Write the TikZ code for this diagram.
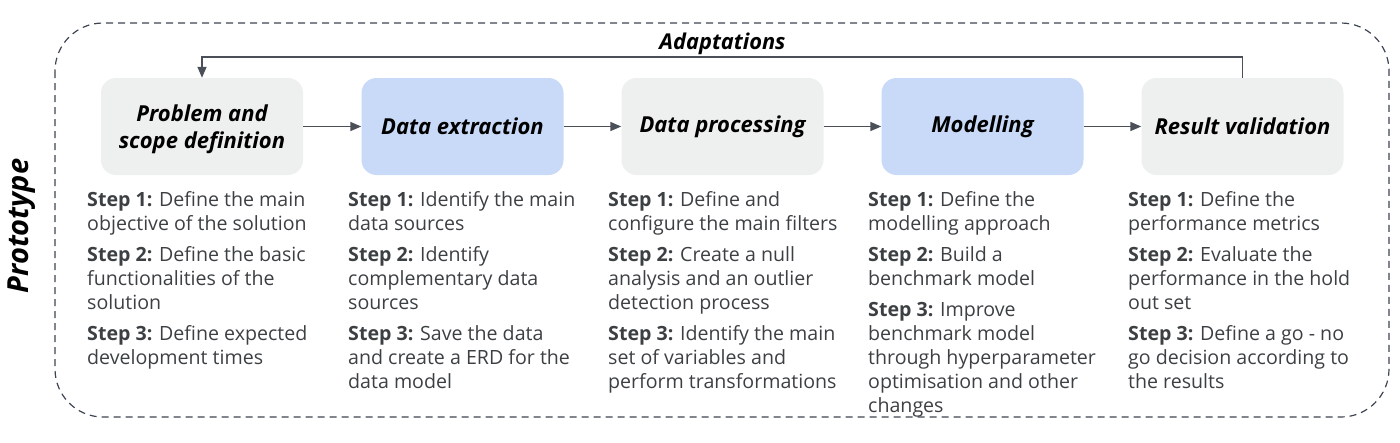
\documentclass[tikz,border=0pt]{standalone}
\usepackage{fontspec}
\setmainfont{Open Sans}
\usetikzlibrary{arrows.meta}
\definecolor{boxgrey}{HTML}{EEEFEF}
\definecolor{boxblue}{HTML}{C9DAF8}
\definecolor{linec}{HTML}{4A4F58}
\definecolor{txtc}{HTML}{3C4043}
\definecolor{dashc}{HTML}{3D4451}
\tikzset{
  stagebox/.style={rounded corners=15pt, minimum width=202pt, minimum height=97pt, align=center,
    font=\fontsize{22}{27}\selectfont\bfseries\itshape, text=black, inner sep=0pt},
  steptext/.style={anchor=north west, align=left, inner sep=0pt, text=txtc,
    font=\fontsize{19.6}{24}\selectfont},
  arr/.style={draw=linec, line width=1.4pt, -{Triangle[length=11pt,width=9pt]}},
}
\newcommand{\stp}[1]{\textbf{Step #1:}}
\begin{document}
\begin{tikzpicture}[x=1pt,y=-1pt]
\useasboundingbox (0,0) rectangle (1400,442);
\draw[dashc, line width=1.2pt, dash pattern=on 7pt off 5pt, rounded corners=48pt] (55,23) rectangle (1389,417);
\node[rotate=90, font=\fontsize{29}{32}\selectfont\bfseries\itshape] (proto) at (22,226) {Prototype};

\node[stagebox, fill=boxgrey] (b1) at (202,126.5) {\rule{0pt}{23pt}Problem and\\scope definition};
\node[stagebox, fill=boxblue] (b2) at (462.5,126.5) {Data extraction};
\node[stagebox, fill=boxgrey] (b3) at (722.5,126.5) {Data processing};
\node[stagebox, fill=boxblue] (b4) at (982.5,126.5) {Modelling};
\node[stagebox, fill=boxgrey] (b5) at (1242.5,126.5) {Result validation};

\draw[arr] (b1) -- (b2);
\draw[arr] (b2) -- (b3);
\draw[arr] (b3) -- (b4);
\draw[arr] (b4) -- (b5);
\coordinate (fb) at (0,57);
\draw[arr] (b5.north) -- (b5.north |- fb) -| (b1.north);
\node[font=\fontsize{21.8}{24}\selectfont\bfseries\itshape] (adapt) at (722.5,43.5) {Adaptations};

\node[steptext] (t1) at (87,191) {\stp{1} Define the main\\objective of the solution\\[7pt]\stp{2} Define the basic\\functionalities of the\\solution\\[7pt]\stp{3} Define expected\\development times};
\node[steptext] (t2) at (348,191) {\stp{1} Identify the main\\data sources\\[7pt]\stp{2} Identify\\complementary data\\sources\\[7pt]\stp{3} Save the data\\and create a ERD for the\\data model};
\node[steptext] (t3) at (608,191) {\stp{1} Define and\\configure the main filters\\[7pt]\stp{2} Create a null\\analysis and an outlier\\detection process\\[7pt]\stp{3} Identify the main\\set of variables and\\perform transformations};
\node[steptext] (t4) at (868,191) {\stp{1} Define the\\modelling approach\\[7pt]\stp{2} Build a\\benchmark model\\[7pt]\stp{3} Improve\\benchmark model\\through hyperparameter\\optimisation and other\\changes};
\node[steptext] (t5) at (1128,191) {\stp{1} Define the\\performance metrics\\[7pt]\stp{2} Evaluate the\\performance in the hold\\out set\\[7pt]\stp{3} Define a go - no\\go decision according to\\the results};
\end{tikzpicture}
\end{document}
